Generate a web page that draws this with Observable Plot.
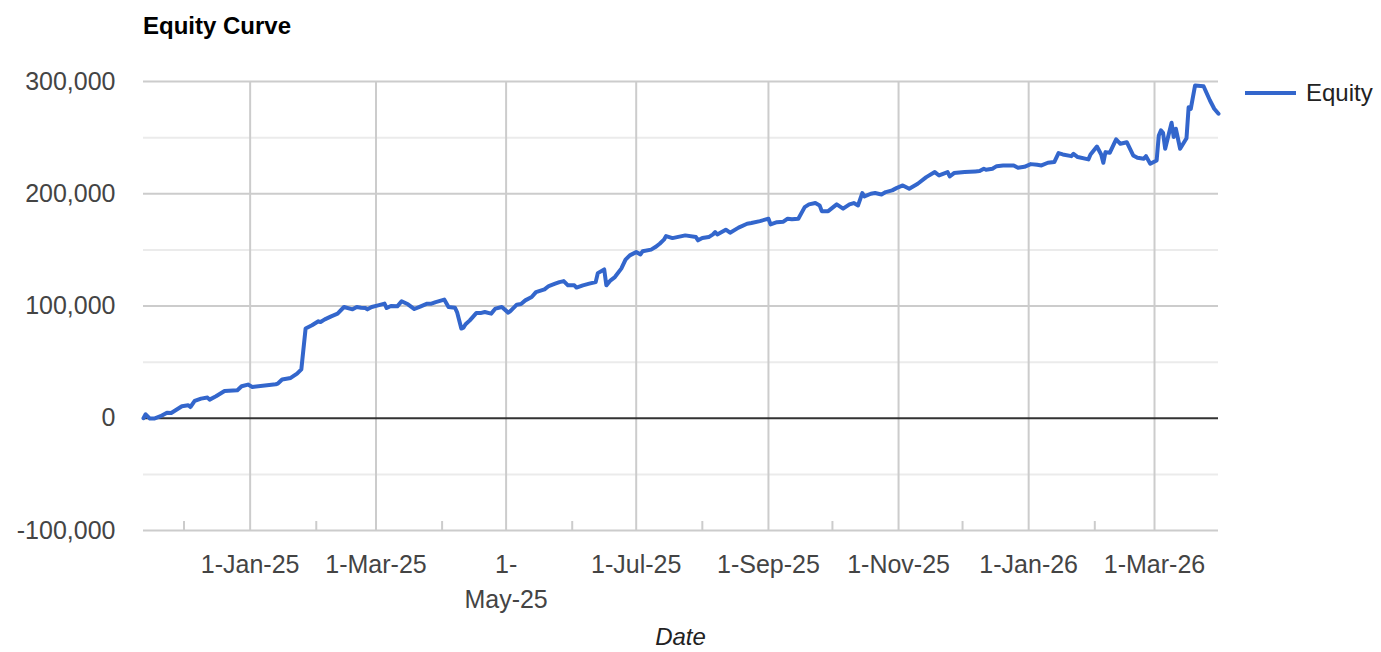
<!DOCTYPE html>
<html>
<head>
<meta charset="utf-8">
<script src="https://cdn.jsdelivr.net/npm/d3@7"></script>
<script src="https://cdn.jsdelivr.net/npm/@observablehq/plot@0.6"></script>
<style>
  html, body { margin: 0; padding: 0; background: #fff; }
  #wrap { position: relative; width: 1381px; height: 652px; font-family: "Liberation Sans", Arial, sans-serif; }
  #title { position: absolute; left: 143px; top: 14px; font-size: 24px; line-height: 24px; font-weight: bold; color: #000; }
  #xlabel { position: absolute; left: 580px; width: 201px; text-align: center; top: 625px; font-size: 24px; line-height: 24px; font-style: italic; color: #222; }
  #legend { position: absolute; left: 1245px; top: 80px; height: 26px; display: flex; align-items: center; font-size: 24px; color: #222; }
  #legend .sw { width: 51px; height: 4px; background: #3366cc; margin-right: 10px; }
  #chart { position: absolute; left: 0; top: 0; }
</style>
</head>
<body>
<div id="wrap">
  <div id="chart"></div>
  <div id="title">Equity Curve</div>
  <div id="legend"><div class="sw"></div><span>Equity</span></div>
  <div id="xlabel">Date</div>
</div>
<script>
const dates = [
  "2024-11-12","2024-11-13","2024-11-15","2024-11-17","2024-11-20","2024-11-23","2024-11-25","2024-11-30",
  "2024-12-03","2024-12-04","2024-12-06","2024-12-09","2024-12-12","2024-12-13","2024-12-16","2024-12-20",
  "2024-12-26","2024-12-28","2024-12-31","2025-01-02","2025-01-13","2025-01-14","2025-01-16","2025-01-20",
  "2025-01-23","2025-01-25","2025-01-27","2025-01-30","2025-02-02","2025-02-03","2025-02-05","2025-02-08",
  "2025-02-11","2025-02-14","2025-02-18","2025-02-20","2025-02-22","2025-02-24","2025-02-25","2025-02-27",
  "2025-03-02","2025-03-05","2025-03-06","2025-03-08","2025-03-11","2025-03-13","2025-03-16","2025-03-19",
  "2025-03-22","2025-03-25","2025-03-27","2025-03-29","2025-04-02","2025-04-04","2025-04-07","2025-04-08",
  "2025-04-10","2025-04-11","2025-04-12","2025-04-14","2025-04-17","2025-04-19","2025-04-21","2025-04-24",
  "2025-04-26","2025-04-29","2025-05-02","2025-05-03","2025-05-06","2025-05-08","2025-05-10","2025-05-13",
  "2025-05-15","2025-05-19","2025-05-21","2025-05-24","2025-05-26","2025-05-28","2025-05-30","2025-06-02",
  "2025-06-03","2025-06-06","2025-06-09","2025-06-12","2025-06-13","2025-06-16","2025-06-17","2025-06-19",
  "2025-06-21","2025-06-24","2025-06-26","2025-06-28","2025-07-01","2025-07-03","2025-07-04","2025-07-08",
  "2025-07-10","2025-07-12","2025-07-14","2025-07-15","2025-07-18","2025-07-24","2025-07-29","2025-07-30",
  "2025-08-01","2025-08-04","2025-08-06","2025-08-07","2025-08-08","2025-08-12","2025-08-14","2025-08-18",
  "2025-08-22","2025-08-24","2025-08-28","2025-09-01","2025-09-02","2025-09-05","2025-09-08","2025-09-10",
  "2025-09-12","2025-09-15","2025-09-18","2025-09-20","2025-09-23","2025-09-25","2025-09-26","2025-09-29",
  "2025-10-03","2025-10-06","2025-10-09","2025-10-11","2025-10-13","2025-10-15","2025-10-16","2025-10-19",
  "2025-10-21","2025-10-24","2025-10-26","2025-10-29","2025-10-31","2025-11-03","2025-11-06","2025-11-10",
  "2025-11-14","2025-11-18","2025-11-20","2025-11-24","2025-11-25","2025-11-27","2025-12-02","2025-12-07",
  "2025-12-09","2025-12-11","2025-12-12","2025-12-15","2025-12-17","2025-12-20","2025-12-25","2025-12-27",
  "2025-12-30","2026-01-02","2026-01-05","2026-01-07","2026-01-10","2026-01-13","2026-01-15","2026-01-17",
  "2026-01-21","2026-01-22","2026-01-24","2026-01-29","2026-01-30","2026-02-02","2026-02-04","2026-02-05",
  "2026-02-06","2026-02-08","2026-02-10","2026-02-11","2026-02-13","2026-02-16","2026-02-19","2026-02-21",
  "2026-02-24","2026-02-25","2026-02-27","2026-03-02","2026-03-03","2026-03-04","2026-03-05","2026-03-06",
  "2026-03-09","2026-03-10","2026-03-11","2026-03-13","2026-03-16","2026-03-17","2026-03-18","2026-03-20",
  "2026-03-24","2026-03-27","2026-03-29","2026-03-31"
];
const equity = [
  0, 3500, -300, -300, 1800, 5000, 4700, 10700,
  11600, 10000, 15400, 17500, 18400, 16600, 19600, 24300,
  24900, 28500, 30000, 27900, 30300, 30900, 34500, 35900,
  39800, 43600, 79900, 82800, 86400, 85700, 88100, 90800,
  93200, 99100, 97000, 99100, 98500, 98200, 97000, 99100,
  100600, 102100, 98200, 100000, 99700, 104200, 101500, 97300,
  99700, 102100, 102100, 103500, 105700, 99100, 98500, 94600,
  79900, 80700, 83700, 87200, 93700, 93700, 94600, 93200,
  97700, 99100, 94100, 95500, 101200, 101800, 105000, 108000,
  112400, 114800, 117800, 119900, 121300, 122200, 118400, 118400,
  116400, 118400, 119900, 121300, 129300, 132600, 118400, 122900,
  125800, 133300, 141300, 145100, 148000, 146000, 148700, 150200,
  152500, 155500, 159100, 162300, 160500, 162900, 161400, 158500,
  160500, 161400, 163800, 165900, 163800, 168000, 165300, 169800,
  173300, 173900, 175600, 177800, 172700, 174700, 175100, 177800,
  177200, 177800, 188100, 190500, 191700, 189600, 184500, 184500,
  190500, 186700, 190500, 191700, 189600, 200600, 197600, 200000,
  200600, 199400, 201500, 203000, 205000, 207400, 204500, 208900,
  214800, 219300, 216300, 219300, 215400, 218400, 219300, 219900,
  220200, 222300, 221400, 222300, 224600, 225200, 225200, 223200,
  224000, 226400, 225800, 225200, 227600, 228200, 236200, 235000,
  233500, 235600, 232700, 230600, 235000, 242100, 235000, 227600,
  237100, 236500, 244500, 248400, 244500, 245900, 234100, 232000,
  231100, 233500, 226700, 229700, 251900, 256400, 254300, 240100,
  263200, 250600, 257900, 240100, 249500, 277100, 275700, 296400,
  295800, 283100, 275700, 271300
];
const xMajorTicks = ["2025-01-01","2025-03-01","2025-05-01","2025-07-01","2025-09-01","2025-11-01","2026-01-01","2026-03-01"];
const xMajorLabels = ["1-Jan-25","1-Mar-25","1-\nMay-25","1-Jul-25","1-Sep-25","1-Nov-25","1-Jan-26","1-Mar-26"];
const xMinorTicks = ["2024-12-01","2025-02-01","2025-04-01","2025-06-01","2025-08-01","2025-10-01","2025-12-01","2026-02-01"];
const yMajorTicks = [-100000, 0, 100000, 200000, 300000];
const yMajorLabels = ["-100,000", "0", "100,000", "200,000", "300,000"];
const yMinorTicks = [-50000, 50000, 150000, 250000];

const parse = d3.utcParse("%Y-%m-%d");
const data = dates.map((d, i) => ({date: parse(d), equity: equity[i]}));
const majX = xMajorTicks.map(parse);
const minX = xMinorTicks.map(parse);
const minXRules = minX.map(d => ({date: d}));

const chart = Plot.plot({
  width: 1381,
  height: 652,
  marginLeft: 143,
  marginRight: 163,
  marginTop: 81,
  marginBottom: 122,
  style: {fontFamily: "'Liberation Sans', Arial, sans-serif", background: "#fff"},
  x: {type: "utc", domain: [data[0].date, data[data.length - 1].date], label: null},
  y: {domain: [-100000, 300000], label: null},
  marks: [
    Plot.gridY(yMinorTicks, {stroke: "#ebebeb", strokeOpacity: 1, strokeWidth: 2}),
    Plot.gridY(yMajorTicks.filter(v => v !== 0), {stroke: "#cccccc", strokeOpacity: 1, strokeWidth: 2}),
    Plot.gridX(majX, {stroke: "#cccccc", strokeOpacity: 1, strokeWidth: 2}),
    Plot.ruleX(minXRules, {x: "date", y1: -100000, y2: -92000, stroke: "#cccccc", strokeWidth: 2}),
    Plot.ruleY([0], {stroke: "#333333", strokeWidth: 2}),
    Plot.line(data, {x: "date", y: "equity", stroke: "#3366cc", strokeWidth: 4, strokeLinejoin: "round", strokeLinecap: "round"}),
    Plot.axisY(yMajorTicks, {tickSize: 0, tickPadding: 28, fontSize: 25, fill: "#444444", label: null,
      tickFormat: (d, i) => yMajorLabels[yMajorTicks.indexOf(d)]}),
    Plot.axisX(majX, {tickSize: 0, tickPadding: 18, fontSize: 25, fill: "#444444", label: null, lineHeight: 1.4,
      tickFormat: (d) => xMajorLabels[majX.findIndex(t => +t === +d)]})
  ]
});
document.getElementById("chart").appendChild(chart);
</script>
</body>
</html>
